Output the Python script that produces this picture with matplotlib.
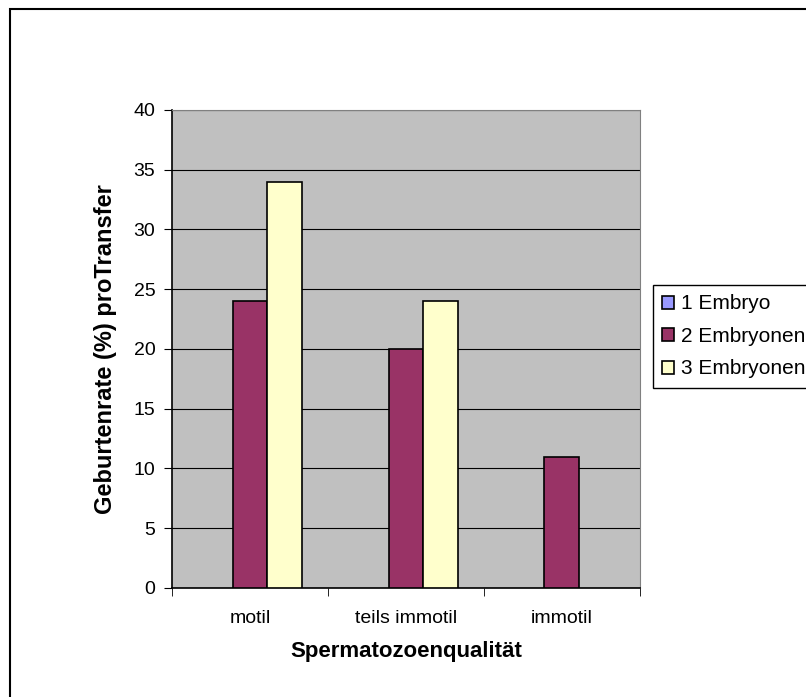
import numpy as np
import matplotlib.pyplot as plt
from matplotlib.patches import Rectangle

plt.rcParams['font.family'] = ['Liberation Sans', 'DejaVu Sans']

# ----------------------------
# Data
# ----------------------------
categories = ['motil', 'teils immotil', 'immotil']
series = ['1 Embryo', '2 Embryonen', '3 Embryonen']
embryo1 = [0, 0, 0]
embryo2 = [24, 20, 11]
embryo3 = [34, 24, 0]
colors = ['#9999FF', '#993366', '#FFFFCC']

fig = plt.figure(figsize=(8.06, 6.97), dpi=100)
ax = fig.add_axes([0.2134, 0.1564, 0.5806, 0.6858])
ax.set_facecolor('#C0C0C0')

x = np.arange(len(categories))
w = 0.224
for i, vals in enumerate([embryo1, embryo2, embryo3]):
    # Excel draws nothing for zero-height bars
    lw = [1.2 if v > 0 else 0 for v in vals]
    ax.bar(x + (i - 1) * w, vals, w, color=colors[i], edgecolor='black',
           linewidth=lw, label=series[i], zorder=3)

ax.set_xlim(-0.5, 2.5)
ax.set_ylim(0, 40)
ax.set_yticks(range(0, 41, 5))
ax.yaxis.grid(True, color='black', linewidth=0.8, zorder=0)
ax.set_axisbelow(True)
ax.set_xticks(x)
ax.set_xticklabels(categories, fontsize=14)
ax.set_xticks([-0.5, 0.5, 1.5, 2.5], minor=True)
ax.tick_params(axis='x', which='major', length=0, pad=16)
ax.tick_params(axis='x', which='minor', length=6, direction='out')
ax.tick_params(axis='y', labelsize=14, length=6, direction='out', pad=6)
for s in ['top', 'right']:
    ax.spines[s].set_color('#808080')
for s in ['left', 'bottom']:
    ax.spines[s].set_color('black')
    ax.spines[s].set_linewidth(1.2)

ax.set_ylabel('Geburtenrate (%) proTransfer', fontsize=17, fontweight='bold', labelpad=12)
ax.set_xlabel('Spermatozoenqualität', fontsize=16, fontweight='bold', labelpad=10)

leg = fig.legend(loc='upper left', bbox_to_anchor=(653 / 806, 1 - 285 / 697), fontsize=15,
                 frameon=True, fancybox=False, edgecolor='black', framealpha=1,
                 handlelength=0.58, handleheight=0.58, handletextpad=0.3,
                 borderpad=0.45, labelspacing=0.65, borderaxespad=0)
for h in leg.legend_handles:
    h.set_linewidth(1.2)

# outer chart border
fig.patches.append(Rectangle((10 / 806, -0.1), 1.2, 1 - 9 / 697 + 0.1,
                             transform=fig.transFigure, fill=False,
                             edgecolor='black', linewidth=1.5))

fig.savefig('out.png', dpi=100)
